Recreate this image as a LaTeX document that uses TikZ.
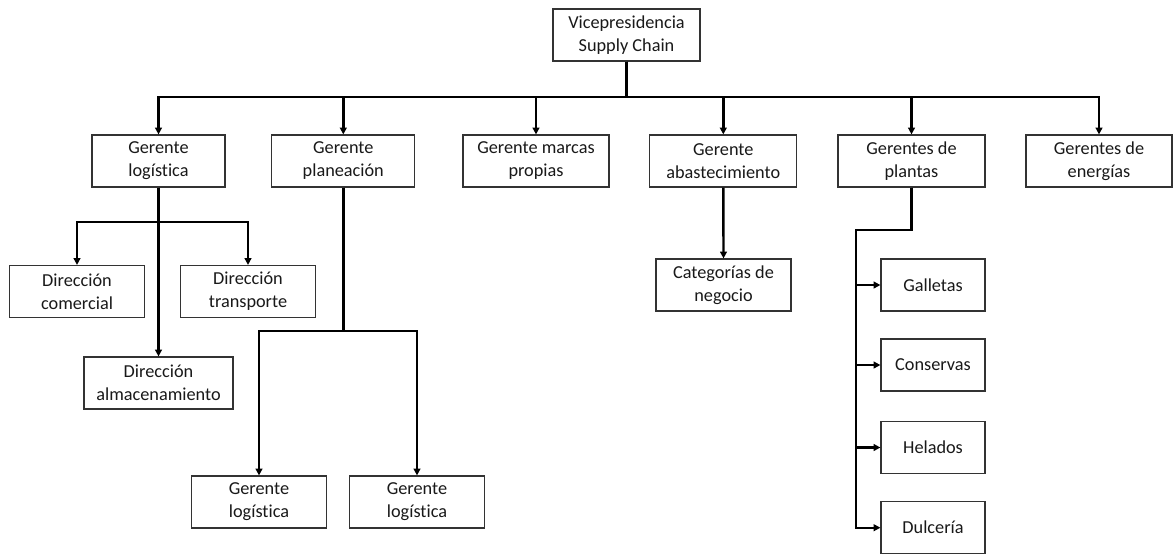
\documentclass[tikz,border=0pt]{standalone}
\usepackage{fontspec}
\setmainfont{Carlito}[Ligatures={NoCommon,NoRare,NoDiscretionary}]
\usetikzlibrary{arrows.meta,calc}
\begin{document}
\begin{tikzpicture}[x=0.75pt,y=-0.75pt,
  box/.style={draw=black!80,line width=0.9pt,fill=white,inner sep=0pt,align=center,
    font=\fontsize{13.7}{17.3}\selectfont,text=black!90,minimum height=39pt},
  w135/.style={minimum width=101.25pt},
  conn/.style={line width=1.8pt,black,line join=miter},
  arr/.style={conn,-{Triangle[length=5pt,width=5pt]}}]
\useasboundingbox (0,0) rectangle (1173,554);
% nodes
\node[box,minimum width=110.25pt] (vp) at (626.5,35) {Vicepresidencia\\Supply Chain};
\node[box,minimum width=99.75pt] (gl) at (158.5,161) {Gerente\\logística};
\node[box,minimum width=107.25pt] (gp) at (343.3,161) {Gerente\\planeación};
\node[box,minimum width=109.5pt] (gm) at (536,161) {Gerente marcas\\propias};
\node[box,minimum width=110.25pt] (ga) at (723.3,161) {Gerente\\abastecimiento};
\node[box,minimum width=110.25pt] (gpl) at (911.5,161) {Gerentes de\\plantas};
\node[box,minimum width=109.5pt] (ge) at (1099,161) {Gerentes de\\energías};
\node[box,w135] (dc) at (77,291.5) {Dirección\\comercial};
\node[box,w135] (dt) at (248,291.5) {Dirección\\transporte};
\node[box,minimum width=111.75pt] (da) at (158.5,383) {Dirección\\almacenamiento};
\node[box,w135] (gl1) at (259,502) {Gerente\\logística};
\node[box,w135] (gl2) at (417,502) {Gerente\\logística};
\node[box,w135] (cat) at (723.5,285) {Categorías de\\negocio};
\node[box,minimum width=78pt] (gal) at (933,285) {Galletas};
\node[box,minimum width=78pt] (con) at (933,365) {Conservas};
\node[box,minimum width=78pt] (hel) at (933,447.5) {Helados};
\node[box,minimum width=78pt] (dul) at (933,527.7) {Dulcería};
% connectors
\coordinate (bus) at (626.5,97);
\foreach \n in {gl,gp,gm,ga,gpl,ge}
  \draw[arr] (vp.south) -- (bus) -| (\n.north);
\coordinate (b1) at (158.5,221.7);
\draw[arr] (gl.south) -- (b1) -| (dc.north);
\draw[arr] (gl.south) -- (b1) -| (dt.north);
\draw[arr] (gl.south) -- (da.north);
\coordinate (b2) at (343.3,331);
\draw[arr] (gp.south) -- (b2) -| (gl1.north);
\draw[arr] (gp.south) -- (b2) -| (gl2.north);
\draw[arr] (ga.south) -- (cat.north);
\coordinate (b3a) at (911.5,230);
\coordinate (b3b) at (856,230);
\foreach \n in {gal,con,hel,dul}
  \draw[arr] (gpl.south) -- (b3a) -- (b3b) |- (\n.west);
\end{tikzpicture}
\end{document}
